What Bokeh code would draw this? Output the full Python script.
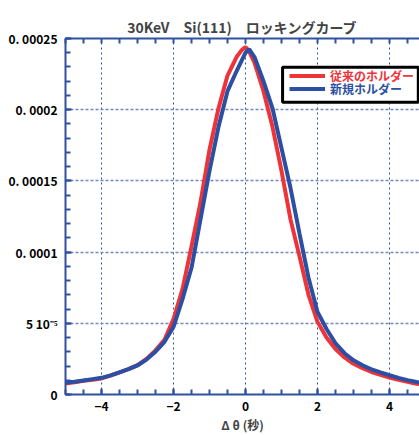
from bokeh.plotting import figure
from bokeh.models import (Range1d, FixedTicker, CustomJSTickFormatter, LinearAxis,
                          Legend, LegendItem, BoxAnnotation)
from bokeh.embed import file_html
from bokeh.resources import INLINE

# ---- data ----
x_old = [-5.0, -4.75, -4.5, -4.25, -4.0, -3.75, -3.5, -3.25, -3.0, -2.75, -2.5, -2.25,
         -2.0, -1.75, -1.5, -1.25, -1.0, -0.75, -0.5, -0.25, -0.1, 0.0, 0.1, 0.25, 0.5,
         0.75, 1.0, 1.25, 1.5, 1.75, 2.0, 2.25, 2.5, 2.75, 3.0, 3.25, 3.5, 3.75, 4.0,
         4.25, 4.5, 4.75, 5.0]
y_old = [7.8e-6, 8.6e-6, 9.6e-6, 10.4e-6, 11.3e-6, 13.2e-6, 15.6e-6, 17.8e-6, 20.6e-6,
         25e-6, 31e-6, 38.5e-6, 53e-6, 74e-6, 104e-6, 135e-6, 172e-6, 201e-6, 224e-6,
         237e-6, 242e-6, 244e-6, 241e-6, 233e-6, 213e-6, 188e-6, 157e-6, 123e-6, 97e-6,
         70e-6, 51e-6, 40e-6, 32e-6, 26e-6, 21.6e-6, 18.5e-6, 15.8e-6, 13.8e-6, 11.9e-6,
         10.3e-6, 8.9e-6, 7.6e-6, 6.8e-6]

x_new = [-5.0, -4.75, -4.5, -4.25, -4.0, -3.75, -3.5, -3.25, -3.0, -2.75, -2.5, -2.25,
         -2.0, -1.75, -1.5, -1.25, -1.0, -0.75, -0.5, -0.25, 0.0, 0.1, 0.25, 0.5, 0.75,
         1.0, 1.25, 1.5, 1.75, 2.0, 2.25, 2.5, 2.75, 3.0, 3.25, 3.5, 3.75, 4.0, 4.25,
         4.5, 4.75, 5.0]
y_new = [8.4e-6, 9.0e-6, 9.8e-6, 10.8e-6, 11.7e-6, 13.4e-6, 15.6e-6, 17.8e-6, 20.4e-6,
         24.5e-6, 30e-6, 37e-6, 47.5e-6, 67e-6, 89e-6, 123e-6, 157e-6, 188e-6, 213e-6,
         227e-6, 240e-6, 242.5e-6, 237e-6, 220e-6, 201e-6, 173e-6, 145e-6, 113e-6, 82e-6,
         58e-6, 46e-6, 36e-6, 29e-6, 24e-6, 20.5e-6, 17.7e-6, 15.5e-6, 13.5e-6, 11.7e-6,
         10.1e-6, 8.8e-6, 8.0e-6]

series_names = ["従来のホルダー", "新規ホルダー"]
title_text = "30KeV　Si(111)　ロッキングカーブ"
x_label = "Δ θ (秒)"
x_ticks = [-4, -2, 0, 2, 4]
x_tick_labels = ["−4", "−2", "0", "2", "4"]
x_minor = [-5 + 0.5 * i for i in range(21)]
y_ticks = [0, 5e-5, 1e-4, 1.5e-4, 2e-4, 2.5e-4]
y_tick_labels = ["0", "5 10⁻⁵", "0. 0001", "0. 00015", "0. 0002", "0. 00025"]
y_minor = [1e-5 * i for i in range(26)]

RED = "#ee3339"
BLUE = "#2b4fa3"
AXIS = "#2f52a0"
FONT = "Noto Sans CJK JP"

p = figure(width=419, height=435, output_backend="svg", toolbar_location=None,
           x_range=Range1d(-5, 4.8333), y_range=Range1d(0, 0.00025),
           min_border_left=65, min_border_right=0, min_border_top=38, min_border_bottom=39,
           x_axis_location=None, y_axis_location=None)
p.background_fill_color = "white"
p.border_fill_color = "white"
p.outline_line_color = None

p.title.text = title_text
p.title.align = "center"
p.title.text_font = FONT
p.title.text_font_size = "14px"
p.title.text_font_style = "bold"
p.title.standoff = 4

xt = FixedTicker(ticks=x_ticks, minor_ticks=x_minor)
yt = FixedTicker(ticks=y_ticks, minor_ticks=y_minor)

def style_axis(ax):
    ax.axis_line_color = AXIS
    ax.axis_line_width = 2
    ax.major_tick_line_color = AXIS
    ax.minor_tick_line_color = AXIS
    ax.major_tick_line_width = 2
    ax.minor_tick_line_width = 2
    ax.major_tick_in = 6
    ax.major_tick_out = 0
    ax.minor_tick_in = 5
    ax.minor_tick_out = 0
    ax.major_label_text_font = FONT
    ax.major_label_text_font_size = "12px"
    ax.major_label_text_font_style = "bold"
    ax.major_label_text_color = "black"

xb = LinearAxis(ticker=xt, formatter=CustomJSTickFormatter(
    args=dict(labels=x_tick_labels), code="return labels[index];"))
style_axis(xb)
xb.major_label_standoff = 7
xb.axis_label = x_label
xb.axis_label_text_font = FONT
xb.axis_label_text_font_size = "12px"
xb.axis_label_text_font_style = "bold"
xb.axis_label_standoff = 2
p.add_layout(xb, "below")

# top frame edge with inward ticks only (no labels)
xa = LinearAxis(ticker=FixedTicker(ticks=[], minor_ticks=x_minor))
style_axis(xa)
xa.major_label_standoff = 0
p.add_layout(xa, "above")

yl = LinearAxis(ticker=yt, formatter=CustomJSTickFormatter(
    args=dict(labels=y_tick_labels), code="return labels[index];"))
style_axis(yl)
yl.major_label_standoff = 8
p.add_layout(yl, "left")

p.xgrid.ticker = xt
p.ygrid.ticker = yt
p.xgrid.grid_line_color = AXIS
p.xgrid.grid_line_dash = "2 3"
p.xgrid.grid_line_width = 1
p.ygrid.grid_line_color = "#7088c0"
p.ygrid.grid_line_dash = "3 2"
p.ygrid.grid_line_width = 1.5

r_old = p.line(x_old, y_old, line_color=RED, line_width=4)
r_new = p.line(x_new, y_new, line_color=BLUE, line_width=4)

# legend frame (decoration, in data units of the frame)
legend_box = BoxAnnotation(left=1.03, right=4.8, top=2.2975e-4, bottom=2.053e-4,
                           fill_color="white", fill_alpha=1,
                           line_color="black", line_alpha=1, line_width=3)
p.add_layout(legend_box)

def make_legend(item, color, loc):
    lg = Legend(items=[item], location=loc)
    lg.label_text_font = FONT
    lg.label_text_font_size = "12px"
    lg.label_text_font_style = "bold"
    lg.label_text_color = color
    lg.label_height = 13
    lg.glyph_height = 13
    lg.glyph_width = 36
    lg.label_standoff = 5
    lg.spacing = 0
    lg.margin = 0
    lg.padding = 0
    lg.border_line_color = None
    lg.background_fill_alpha = 0
    return lg

p.add_layout(make_legend(LegendItem(label=series_names[0], renderers=[r_old]), RED, (224, 310)))
p.add_layout(make_legend(LegendItem(label=series_names[1], renderers=[r_new]), BLUE, (224, 297)))

open("out.html", "w").write(file_html(p, INLINE))
